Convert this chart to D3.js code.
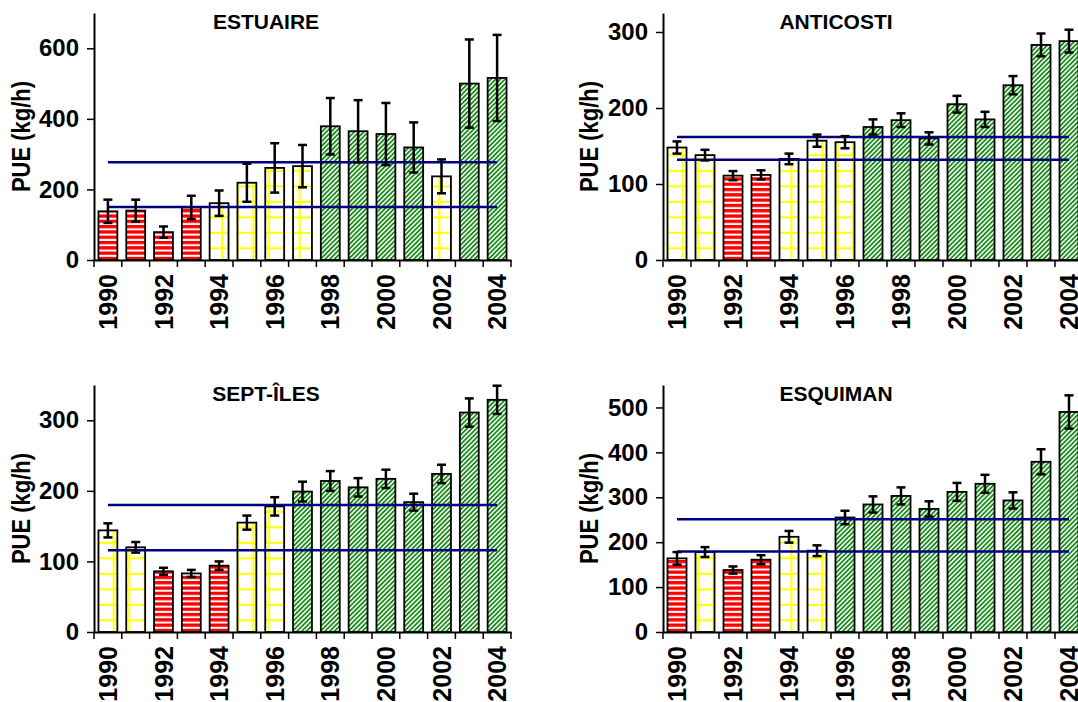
<!DOCTYPE html>
<html>
<head>
<meta charset="utf-8">
<script src="https://cdn.jsdelivr.net/npm/d3@7"></script>
<style>
  body { margin: 0; background: #fff; }
  svg text { font-family: "Liberation Sans", Arial, sans-serif; font-weight: bold; fill: #000; }
</style>
</head>
<body>
<div id="chart"></div>
<script>
// categories
const years = ["1990","1991","1992","1993","1994","1995","1996","1997","1998","1999","2000","2001","2002","2003","2004"];
const yearLabels = ["1990","1992","1994","1996","1998","2000","2002","2004"];

// ESTUAIRE
const estuaireVals = [138,140,79,149,161,219,261,266,379,365,357,319,237,500,516];
const estuaireErrs = [33,31,16,33,36,54,70,60,80,88,88,71,48,125,122];
const estuaireCats = ["R","R","R","R","Y","Y","Y","Y","G","G","G","G","Y","G","G"];
const estuaireMeans = [277,150];
const estuaireTicks = [0,200,400,600];

// ANTICOSTI
const anticostiVals = [148,138,111,112,133,157,155,175,184,160,205,185,230,283,288];
const anticostiErrs = [8,7,6,6,7,8,8,10,9,8,11,10,12,15,15];
const anticostiCats = ["Y","Y","R","R","Y","Y","Y","G","G","G","G","G","G","G","G"];
const anticostiMeans = [162,132];
const anticostiTicks = [0,100,200,300];

// SEPT-ILES
const septVals = [144,120,86,83,94,155,178,199,214,205,217,184,224,311,329];
const septErrs = [10,7.5,5,5,6,10,13,14,14,13,13,12,13,20,20];
const septCats = ["Y","Y","R","R","R","Y","Y","G","G","G","G","G","G","G","G"];
const septMeans = [180,116];
const septTicks = [0,100,200,300];

// ESQUIMAN
const esquimanVals = [164,178,138,161,212,181,255,284,303,274,312,330,293,379,490];
const esquimanErrs = [14,11,8,10,13,12,15,18,19,17,20,20,18,28,37];
const esquimanCats = ["R","Y","R","R","Y","Y","G","G","G","G","G","G","G","G","G"];
const esquimanMeans = [251,179];
const esquimanTicks = [0,100,200,300,400,500];

const width = 1078, height = 702;
const H = 247; // plot height

const panels = [
  { title: "ESTUAIRE",  vals: estuaireVals,  errs: estuaireErrs,  cats: estuaireCats,  means: estuaireMeans,  ticks: estuaireTicks,  max: 700, x: 94,  y: 13,  w: 417, titleX: 266, labelX: 22 },
  { title: "ANTICOSTI", vals: anticostiVals, errs: anticostiErrs, cats: anticostiCats, means: anticostiMeans, ticks: anticostiTicks, max: 325, x: 663, y: 13,  w: 420, titleX: 836, labelX: 590 },
  { title: "SEPT-ÎLES", vals: septVals,      errs: septErrs,      cats: septCats,      means: septMeans,      ticks: septTicks,      max: 350, x: 94,  y: 385, w: 417, titleX: 266, labelX: 22 },
  { title: "ESQUIMAN",  vals: esquimanVals,  errs: esquimanErrs,  cats: esquimanCats,  means: esquimanMeans,  ticks: esquimanTicks,  max: 550, x: 663, y: 385, w: 420, titleX: 836, labelX: 590 }
];

const svg = d3.select("#chart")
  .append("svg")
  .attr("width", width)
  .attr("height", height);

// fill patterns
const defs = svg.append("defs");

const patR = defs.append("pattern")
  .attr("id", "pat-R")
  .attr("patternUnits", "userSpaceOnUse")
  .attr("width", 10).attr("height", 5.3);
patR.append("rect").attr("width", 10).attr("height", 5.3).attr("fill", "#fff");
patR.append("rect").attr("width", 10).attr("height", 3.3).attr("fill", "#ff0000");

const patY = defs.append("pattern")
  .attr("id", "pat-Y")
  .attr("patternUnits", "userSpaceOnUse")
  .attr("width", 15.5).attr("height", 15.5);
patY.append("rect").attr("width", 15.5).attr("height", 15.5).attr("fill", "#fff");
patY.append("rect").attr("x", 3.3).attr("width", 2).attr("height", 15.5).attr("fill", "#ffff00");
patY.append("rect").attr("y", 1.8).attr("width", 15.5).attr("height", 2).attr("fill", "#ffff00");

const patG = defs.append("pattern")
  .attr("id", "pat-G")
  .attr("patternUnits", "userSpaceOnUse")
  .attr("width", 3.3).attr("height", 3.3)
  .attr("patternTransform", "rotate(45)");
patG.append("rect").attr("width", 3.3).attr("height", 3.3).attr("fill", "#fff");
patG.append("rect").attr("width", 1.8).attr("height", 3.3).attr("fill", "#1a8a1a");

panels.forEach(renderPanel);

function renderPanel(p) {
  const g = svg.append("g").attr("transform", `translate(${p.x},${p.y})`);

  const x = d3.scaleBand()
    .domain(years)
    .range([0, p.w])
    .paddingInner(0.32)
    .paddingOuter(0.16);

  const y = d3.scaleLinear()
    .domain([0, p.max])
    .range([H, 0]);

  const rows = years.map((yr, i) => ({ year: yr, v: p.vals[i], e: p.errs[i], c: p.cats[i] }));

  // bars
  g.selectAll("rect.bar")
    .data(rows)
    .join("rect")
    .attr("class", "bar")
    .attr("x", d => x(d.year))
    .attr("y", d => y(d.v))
    .attr("width", x.bandwidth())
    .attr("height", d => H - y(d.v))
    .attr("fill", d => `url(#pat-${d.c})`)
    .attr("stroke", "#000")
    .attr("stroke-width", 1.8);

  // mean lines
  const x1 = x(years[0]) + x.bandwidth() / 2;
  const x2 = x(years[years.length - 1]) + x.bandwidth() / 2;
  g.selectAll("line.mean")
    .data(p.means)
    .join("line")
    .attr("class", "mean")
    .attr("x1", x1).attr("x2", x2)
    .attr("y1", d => y(d)).attr("y2", d => y(d))
    .attr("stroke", "#000080")
    .attr("stroke-width", 2.5);

  // error bars
  const eb = g.selectAll("g.err")
    .data(rows)
    .join("g")
    .attr("class", "err")
    .attr("transform", d => `translate(${x(d.year) + x.bandwidth() / 2},0)`)
    .attr("stroke", "#000")
    .attr("stroke-width", 2.5);
  eb.append("line").attr("y1", d => y(d.v - d.e)).attr("y2", d => y(d.v + d.e));
  eb.append("line").attr("x1", -4.5).attr("x2", 4.5).attr("y1", d => y(d.v + d.e)).attr("y2", d => y(d.v + d.e));
  eb.append("line").attr("x1", -4.5).attr("x2", 4.5).attr("y1", d => y(d.v - d.e)).attr("y2", d => y(d.v - d.e));

  // y axis
  const ya = g.append("g")
    .call(d3.axisLeft(y).tickValues(p.ticks).tickSize(7).tickSizeOuter(0).tickPadding(8));
  ya.select(".domain").attr("stroke-width", 2);
  ya.selectAll(".tick line").attr("stroke-width", 1.5);
  ya.selectAll("text").style("font-size", "24px").attr("font-family", null);

  // x axis
  const xa = g.append("g")
    .attr("transform", `translate(0,${H})`)
    .call(d3.axisBottom(x).tickSize(0).tickSizeOuter(0)
      .tickFormat(d => yearLabels.includes(d) ? d : ""));
  xa.select(".domain").attr("stroke-width", 2);
  xa.selectAll("text")
    .style("font-size", "25px")
    .attr("transform", "rotate(-90)")
    .attr("text-anchor", "end")
    .attr("x", -14)
    .attr("y", 0)
    .attr("dy", "0.36em");

  // ticks at band boundaries
  g.selectAll("line.xtick")
    .data(d3.range(years.length + 1))
    .join("line")
    .attr("class", "xtick")
    .attr("x1", k => k * x.step()).attr("x2", k => k * x.step())
    .attr("y1", H).attr("y2", H + 7)
    .attr("stroke", "#000")
    .attr("stroke-width", 1.5);

  // title
  svg.append("text")
    .attr("x", p.titleX)
    .attr("y", p.y + 16)
    .attr("text-anchor", "middle")
    .style("font-size", "21px")
    .text(p.title);

  // y label
  svg.append("text")
    .attr("transform", `translate(${p.labelX + 8},${p.y + H / 2}) scale(1.15,1) rotate(-90)`)
    .attr("text-anchor", "middle")
    .style("font-size", "22px")
    .text("PUE (kg/h)");
}
</script>
</body>
</html>
